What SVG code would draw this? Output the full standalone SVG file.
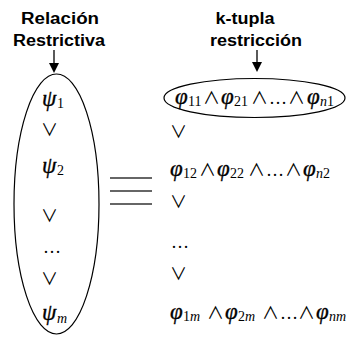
<svg xmlns="http://www.w3.org/2000/svg" width="346" height="337" viewBox="0 0 346 337">
<style>
.t{font-family:"Liberation Sans",Arial,sans-serif;font-weight:bold;font-size:16px;fill:#000}
.g{font-family:"Liberation Serif","Times New Roman",serif;font-style:italic;font-size:23px;fill:#000;stroke:#000;stroke-width:0.35}
.s{font-family:"Liberation Serif","Times New Roman",serif;font-size:14px;fill:#000}
.si{font-family:"Liberation Serif","Times New Roman",serif;font-style:italic;font-size:14px;fill:#000}
.o{font-family:"Noto Sans CJK JP","DejaVu Sans",sans-serif;font-size:17px;fill:#000}
.d{font-family:"Liberation Serif","Times New Roman",serif;font-size:18px;fill:#000}
.e{fill:none;stroke:#000;stroke-width:1.2}
.a{stroke:#000;stroke-width:1.3;fill:none}
</style>
<g id="title-left">
<text class="t" x="60" y="24" text-anchor="middle" textLength="78" lengthAdjust="spacingAndGlyphs">Relación</text>
<text class="t" x="59" y="46" text-anchor="middle" textLength="92" lengthAdjust="spacingAndGlyphs">Restrictiva</text>
</g>
<g id="title-right">
<text class="t" x="245" y="24" text-anchor="middle" textLength="59" lengthAdjust="spacingAndGlyphs">k-tupla</text>
<text class="t" x="256" y="46" text-anchor="middle" textLength="92" lengthAdjust="spacingAndGlyphs">restricción</text>
</g>
<g id="connectors">
<line class="a" x1="54" y1="50" x2="54" y2="64"/>
<path d="M49,63 L59,63 L54,73 Z" fill="#000"/>
<line class="a" x1="257" y1="50" x2="257" y2="63"/>
<path d="M252,62 L262,62 L257,72 Z" fill="#000"/>
<g stroke="#333" stroke-width="1.5">
<line x1="110" y1="178" x2="152" y2="178"/>
<line x1="110" y1="191" x2="152" y2="191"/>
<line x1="110" y1="204" x2="152" y2="204"/>
</g>
</g>
<g id="relacion">
<ellipse class="e" cx="56.5" cy="204" rx="42.5" ry="130"/>
<text class="g" x="42" y="106">ψ</text><text class="s" x="57" y="108">1</text>
<text class="o" x="41" y="136">∨</text>
<text class="g" x="42" y="173">ψ</text><text class="s" x="57" y="175">2</text>
<text class="o" x="41" y="222">∨</text>
<text class="d" x="43" y="253">…</text>
<text class="o" x="41" y="285">∨</text>
<text class="g" x="42" y="320">ψ</text><text class="si" x="57" y="323">m</text>
</g>
<g id="ktupla">
<ellipse class="e" cx="254.5" cy="98" rx="90.5" ry="19.5"/>
<text class="g" x="175" y="104">φ</text><text class="s" x="188" y="106">11</text>
<text class="o" x="203" y="104">∧</text>
<text class="g" x="221" y="104">φ</text><text class="s" x="234" y="106">21</text>
<text class="o" x="251" y="104">∧</text>
<text class="d" x="269" y="104">…</text>
<text class="o" x="288" y="104">∧</text>
<text class="g" x="307" y="104">φ</text><text class="si" x="320" y="106">n</text><text class="s" x="327" y="106">1</text>
</g>
<g id="row2">
<text class="o" x="170" y="138">∨</text>
<text class="g" x="170" y="176">φ</text><text class="s" x="183" y="178">12</text>
<text class="o" x="199" y="176">∧</text>
<text class="g" x="217" y="176">φ</text><text class="s" x="230" y="178">22</text>
<text class="o" x="248" y="176">∧</text>
<text class="d" x="266" y="176">…</text>
<text class="o" x="285" y="176">∧</text>
<text class="g" x="303" y="176">φ</text><text class="si" x="316" y="178">n</text><text class="s" x="323" y="178">2</text>
<text class="o" x="170" y="208">∨</text>
<text class="d" x="171" y="248">…</text>
<text class="o" x="170" y="280">∨</text>
</g>
<g id="row3">
<text class="g" x="170" y="319">φ</text><text class="s" x="183" y="321">1</text><text class="si" x="190" y="321">m</text>
<text class="o" x="207" y="319">∧</text>
<text class="g" x="225" y="319">φ</text><text class="s" x="238" y="321">2</text><text class="si" x="245" y="321">m</text>
<text class="o" x="262" y="319">∧</text>
<text class="d" x="280" y="319">…</text>
<text class="o" x="298" y="319">∧</text>
<text class="g" x="316" y="319">φ</text><text class="si" x="329" y="321">nm</text>
</g>
</svg>
